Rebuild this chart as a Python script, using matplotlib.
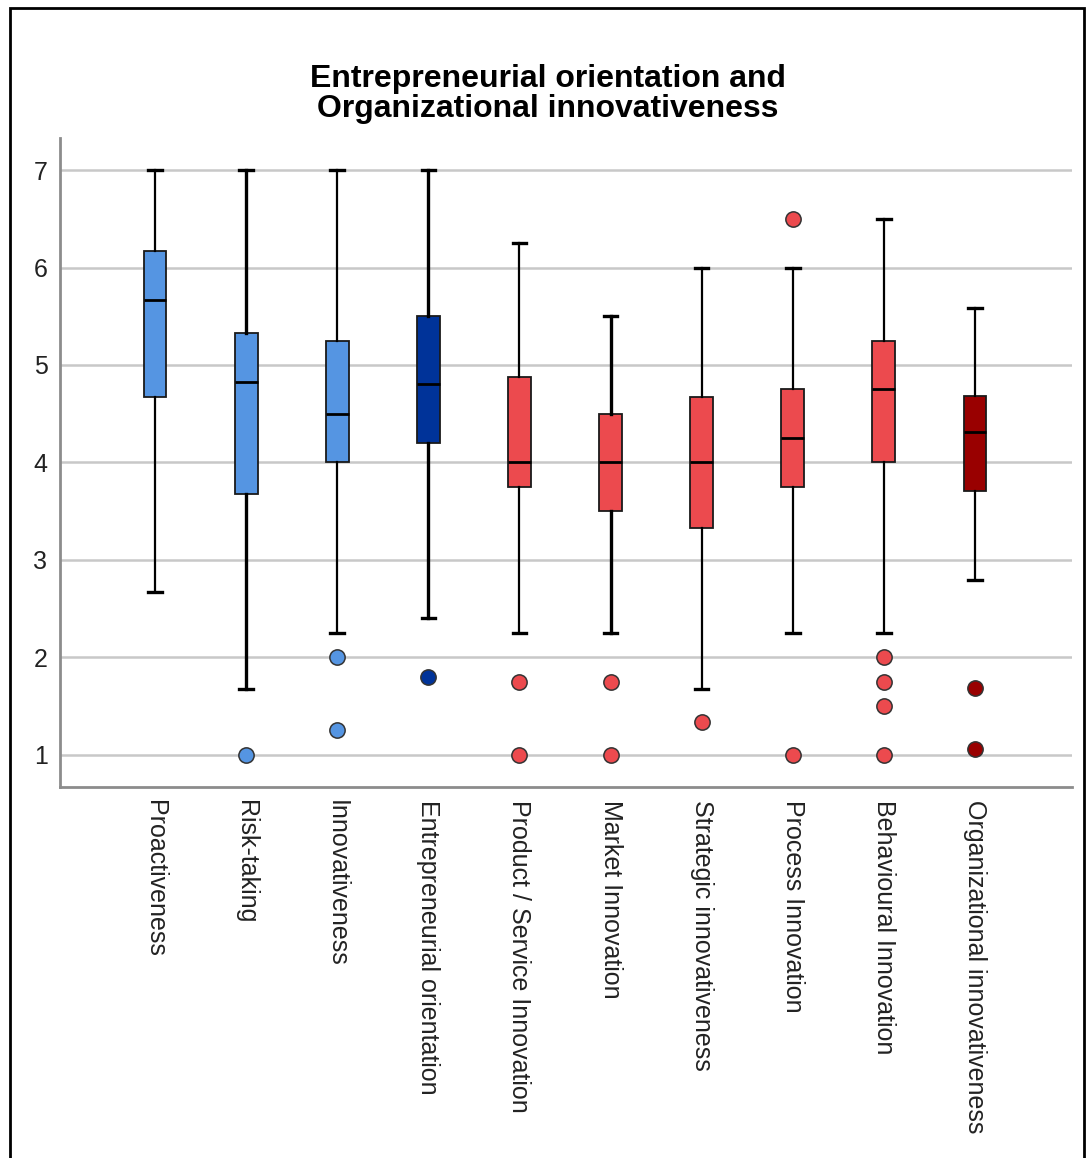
import matplotlib
matplotlib.use("Agg")
import matplotlib.pyplot as plt
from matplotlib.patches import Rectangle

plt.rcParams['font.family'] = ['Liberation Sans', 'DejaVu Sans']

labels = ["Proactiveness", "Risk-taking", "Innovativeness", "Entrepreneurial orientation",
          "Product / Service Innovation", "Market Innovation", "Strategic innovativeness",
          "Process Innovation", "Behavioural Innovation", "Organizational innovativeness"]
whislo = [2.67, 1.67, 2.25, 2.40, 2.25, 2.25, 1.67, 2.25, 2.25, 2.79]
q1 = [4.67, 3.67, 4.00, 4.20, 3.75, 3.50, 3.33, 3.75, 4.00, 3.71]
med = [5.67, 4.83, 4.50, 4.80, 4.00, 4.00, 4.00, 4.25, 4.75, 4.31]
q3 = [6.17, 5.33, 5.25, 5.50, 4.875, 4.50, 4.67, 4.75, 5.25, 4.68]
whishi = [7.00, 7.00, 7.00, 7.00, 6.25, 5.50, 6.00, 6.00, 6.50, 5.58]
outliers = [[], [1.0], [2.0, 1.25], [1.8], [1.75, 1.0], [1.75, 1.0],
            [1.33], [6.5, 1.0], [2.0, 1.75, 1.5, 1.0], [1.68, 1.06]]

light_blue = "#5595E2"
dark_blue = "#003399"
red = "#EC4A4E"
dark_red = "#990000"
colors = [light_blue] * 3 + [dark_blue] + [red] * 5 + [dark_red]
thick = {1, 3, 5}

stats = []
for i in range(len(labels)):
    stats.append(dict(label=labels[i], whislo=whislo[i], q1=q1[i], med=med[i],
                      q3=q3[i], whishi=whishi[i], fliers=outliers[i]))

fig = plt.figure(figsize=(10.86, 11.58), dpi=100)
ax = fig.add_axes([60 / 1086, 1 - 787 / 1158, 1012 / 1086, 649 / 1158])

pos = list(range(len(labels)))
bp = ax.bxp(stats, positions=pos, widths=0.25, patch_artist=True, capwidths=0.15,
            showfliers=True, zorder=3)

for i, box in enumerate(bp['boxes']):
    box.set_facecolor(colors[i])
    box.set_edgecolor("#1a1a1a")
    box.set_linewidth(1.3)
for i, w in enumerate(bp['whiskers']):
    w.set_color("black")
    w.set_linewidth(2.4 if i // 2 in thick else 1.6)
for c in bp['caps']:
    c.set_color("black")
    c.set_linewidth(2.4)
for m in bp['medians']:
    m.set_color("black")
    m.set_linewidth(2)
for i, f in enumerate(bp['fliers']):
    f.set_marker("o")
    f.set_markersize(11)
    f.set_markerfacecolor(colors[i])
    f.set_markeredgecolor("#333333")
    f.set_markeredgewidth(1.1)

ax.set_xlim(-1.043, 10.065)
ax.set_ylim(0.667, 7.33)
ax.set_yticks([1, 2, 3, 4, 5, 6, 7])
ax.yaxis.grid(True, color="#c8c8c8", linewidth=1.8, zorder=0)
ax.set_axisbelow(True)
ax.tick_params(axis='both', length=0, labelsize=18, colors="#222222")
ax.tick_params(axis='y', pad=9)
ax.tick_params(axis='x', pad=9)
ax.set_xticks(pos)
ax.set_xticklabels(labels, rotation=270, va='top', ha='center')

for side in ('top', 'right'):
    ax.spines[side].set_visible(False)
for side in ('left', 'bottom'):
    ax.spines[side].set_color("#8c8c8c")
    ax.spines[side].set_linewidth(2)

fig.text(548 / 1086, 1 - 94 / 1158,
         "Entrepreneurial orientation and\nOrganizational innovativeness",
         ha='center', va='center', fontsize=23, fontweight='bold', linespacing=1.0)

fig.patches.append(Rectangle((10 / 1086, -0.01), 1074 / 1086, 1 - 8 / 1158 + 0.01,
                             transform=fig.transFigure, fill=False,
                             edgecolor="black", linewidth=2))

fig.savefig("out.png", dpi=100)
